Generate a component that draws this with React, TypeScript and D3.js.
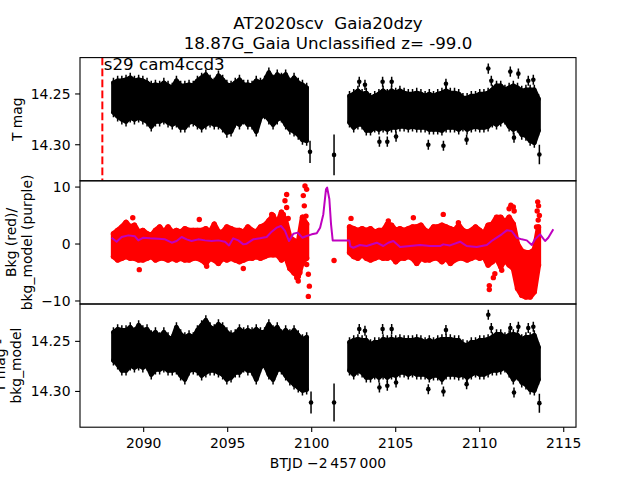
import React from "react";
import * as d3 from "d3";

// ---------- time bins (BTJD - 2457000) ----------
const TIME_S1 = [2088.2, 2088.45, 2088.7, 2088.95, 2089.2, 2089.45, 2089.7, 2089.95, 2090.2, 2090.45, 2090.7, 2090.95, 2091.2, 2091.45, 2091.7, 2091.95, 2092.2, 2092.45, 2092.7, 2092.95, 2093.2, 2093.45, 2093.7, 2093.95, 2094.2, 2094.45, 2094.7, 2094.95, 2095.2, 2095.45, 2095.7, 2095.95, 2096.2, 2096.45, 2096.7, 2096.95, 2097.2, 2097.45, 2097.7, 2097.95, 2098.2, 2098.45, 2098.7, 2098.95, 2099.2, 2099.45, 2099.7];
const TIME_S2 = [2102.25, 2102.5, 2102.75, 2103.0, 2103.25, 2103.5, 2103.75, 2104.0, 2104.25, 2104.5, 2104.75, 2105.0, 2105.25, 2105.5, 2105.75, 2106.0, 2106.25, 2106.5, 2106.75, 2107.0, 2107.25, 2107.5, 2107.75, 2108.0, 2108.25, 2108.5, 2108.75, 2109.0, 2109.25, 2109.5, 2109.75, 2110.0, 2110.25, 2110.5, 2110.75, 2111.0, 2111.25, 2111.5, 2111.75, 2112.0, 2112.25, 2112.5, 2112.75, 2113.0, 2113.25, 2113.5];

// ---------- T mag: brightest / faintest point per bin ----------
const TMAG_HI_S1 = [14.239, 14.237, 14.237, 14.236, 14.234, 14.237, 14.236, 14.237, 14.239, 14.242, 14.241, 14.242, 14.239, 14.242, 14.244, 14.237, 14.242, 14.242, 14.241, 14.242, 14.237, 14.234, 14.231, 14.236, 14.239, 14.232, 14.236, 14.241, 14.242, 14.239, 14.236, 14.241, 14.241, 14.242, 14.237, 14.239, 14.237, 14.229, 14.236, 14.231, 14.234, 14.231, 14.239, 14.234, 14.239, 14.241, 14.244];
const TMAG_LO_S1 = [14.268, 14.272, 14.275, 14.277, 14.273, 14.275, 14.273, 14.275, 14.277, 14.282, 14.277, 14.277, 14.275, 14.278, 14.280, 14.278, 14.283, 14.283, 14.278, 14.277, 14.280, 14.283, 14.280, 14.278, 14.280, 14.280, 14.283, 14.288, 14.287, 14.278, 14.280, 14.275, 14.280, 14.280, 14.287, 14.273, 14.270, 14.275, 14.280, 14.275, 14.273, 14.280, 14.285, 14.287, 14.290, 14.295, 14.296];
const TMAG_HI_S2 = [14.252, 14.250, 14.247, 14.250, 14.249, 14.254, 14.252, 14.250, 14.247, 14.250, 14.247, 14.249, 14.247, 14.249, 14.250, 14.250, 14.249, 14.250, 14.252, 14.250, 14.252, 14.250, 14.249, 14.247, 14.249, 14.249, 14.250, 14.254, 14.254, 14.252, 14.252, 14.250, 14.250, 14.249, 14.246, 14.242, 14.242, 14.246, 14.244, 14.242, 14.244, 14.247, 14.246, 14.246, 14.246, 14.255];
const TMAG_LO_S2 = [14.278, 14.283, 14.280, 14.280, 14.286, 14.286, 14.283, 14.285, 14.283, 14.285, 14.283, 14.283, 14.282, 14.282, 14.283, 14.282, 14.283, 14.283, 14.283, 14.285, 14.285, 14.285, 14.286, 14.283, 14.283, 14.283, 14.285, 14.282, 14.285, 14.283, 14.282, 14.283, 14.283, 14.282, 14.278, 14.280, 14.277, 14.275, 14.282, 14.285, 14.283, 14.290, 14.291, 14.296, 14.298, 14.286];
const TMAG_ERR = 0.005;
const TMAG_OUT_T = [2099.90, 2101.33, 2102.83, 2103.17, 2104.22, 2104.76, 2107.99, 2110.51, 2110.69, 2111.82, 2112.30, 2112.89, 2113.19, 2104.03, 2104.50, 2105.02, 2106.94, 2107.84, 2109.22, 2112.04, 2113.55];
const TMAG_OUT_M = [14.307, 14.310, 14.238, 14.241, 14.238, 14.238, 14.240, 14.225, 14.237, 14.228, 14.230, 14.237, 14.236, 14.297, 14.297, 14.292, 14.300, 14.301, 14.295, 14.293, 14.3096];
const TMAG_OUT_E = [0.011, 0.020, 0.005, 0.005, 0.005, 0.005, 0.005, 0.005, 0.005, 0.005, 0.005, 0.005, 0.005, 0.005, 0.005, 0.005, 0.005, 0.005, 0.005, 0.005, 0.0095];

// ---------- background flux (red) per bin ----------
const BKG_HI_S1 = [1.8, 2.4, 3.0, 3.8, 3.0, 3.3, 2.1, 2.4, 1.8, 1.5, 2.4, 3.0, 2.1, 3.0, 2.1, 2.4, 2.1, 2.7, 2.4, 2.4, 2.4, 2.4, 2.7, 2.1, 3.5, 2.1, 2.1, 3.0, 2.7, 2.4, 2.4, 2.1, 3.0, 2.4, 2.1, 3.0, 3.3, 4.1, 5.0, 3.5, 5.6, 4.1, 1.2, 0.6, 0.3, 4.7, 3.5];
const BKG_LO_S1 = [-2.2, -2.8, -2.5, -2.2, -2.5, -2.5, -2.8, -2.8, -2.5, -2.2, -2.8, -2.5, -2.5, -2.8, -2.5, -2.8, -2.5, -2.8, -2.8, -2.5, -2.5, -2.8, -3.4, -2.5, -2.8, -3.4, -2.5, -2.8, -2.5, -2.8, -3.1, -2.8, -2.5, -2.5, -2.2, -2.5, -2.2, -1.9, -1.9, -1.9, -2.8, -2.2, -4.3, -5.1, -5.7, -3.1, -2.5];
const BKG_HI_S2 = [3.0, 2.7, 2.4, 2.7, 2.4, 2.7, 2.1, 2.4, 2.4, 3.5, 3.3, 2.4, 2.7, 2.4, 2.7, 3.0, 3.0, 3.3, 2.4, 2.1, 3.0, 3.0, 3.3, 3.0, 2.7, 2.4, 3.3, 2.4, 2.1, 2.4, 3.0, 2.4, 1.8, 3.3, 3.5, 4.7, 4.7, 3.8, 4.7, 3.5, 0.0, -1.2, -1.5, -1.5, -1.0, 3.0];
const BKG_LO_S2 = [-1.5, -2.2, -2.5, -1.9, -2.5, -2.8, -2.5, -2.2, -2.5, -2.5, -2.2, -3.1, -2.5, -2.5, -2.2, -2.5, -3.4, -2.5, -2.8, -2.8, -2.5, -2.5, -3.1, -2.5, -3.4, -2.8, -2.5, -2.5, -2.8, -2.5, -2.2, -2.5, -2.2, -3.7, -3.1, -2.5, -4.0, -2.8, -3.7, -4.3, -7.8, -9.0, -9.3, -9.3, -8.4, -3.7];
const BKG_OUT_T = [2089.35, 2089.74, 2093.31, 2093.75, 2095.93, 2097.62, 2098.31, 2098.51, 2098.41, 2098.51, 2098.6, 2099.0, 2099.11, 2099.20, 2099.3, 2099.60, 2099.70, 2099.50, 2099.56, 2099.66, 2099.60, 2099.63, 2099.70, 2099.80, 2099.86, 2099.80, 2101.33, 2102.34, 2104.56, 2106.05, 2107.83, 2108.73, 2110.57, 2110.57, 2110.81, 2110.9, 2111.31, 2111.75, 2111.85, 2112.0, 2112.05, 2113.45, 2113.5, 2113.42, 2113.55, 2113.48, 2113.38];
const BKG_OUT_V = [4.6, -4.5, 4.3, -3.9, -4.3, 5.2, 5.2, 6.4, 7.6, 8.7, 4.5, -4.8, -5.9, -6.5, -5.0, 10.2, 9.6, 8.5, 6.7, 4.9, 3.2, 1.0, -3.6, -5.3, -7.4, -9.2, -2.9, 4.5, 4.05, 4.6, 5.2, 3.75, -7.3, -8.0, -5.9, -5.2, -4.6, 6.2, 6.8, 6.5, 5.8, 7.4, 6.7, 5.8, 5.0, 4.2, 3.0];

// ---------- background model (purple) ----------
const MODEL_T = [2088.09, 2088.39, 2088.69, 2089.09, 2089.48, 2089.68, 2089.98, 2090.38, 2090.87, 2091.27, 2091.67, 2091.96, 2092.26, 2092.56, 2092.85, 2093.25, 2093.65, 2094.05, 2094.44, 2094.84, 2095.08, 2095.33, 2095.63, 2095.93, 2096.13, 2096.52, 2096.92, 2097.32, 2097.62, 2097.91, 2098.17, 2098.41, 2098.65, 2098.91, 2099.17, 2099.44, 2099.70, 2100.00, 2100.30, 2100.50, 2100.69, 2100.85, 2100.92, 2101.05, 2101.15, 2101.25, 2102.24, 2102.30, 2102.48, 2102.87, 2103.27, 2103.87, 2104.26, 2104.56, 2104.86, 2105.26, 2105.85, 2106.45, 2107.04, 2107.64, 2107.83, 2108.23, 2108.83, 2109.22, 2109.82, 2110.42, 2110.71, 2111.01, 2111.31, 2111.61, 2111.90, 2112.20, 2112.50, 2112.80, 2113.10, 2113.29, 2113.59, 2113.89, 2114.08, 2114.38];
const MODEL_V = [1.11, 0.41, 1.23, 1.52, 1.35, 0.64, 1.11, 1.00, 0.94, 0.82, 0.23, 0.53, 1.23, 0.82, 0.53, 0.82, 0.64, 0.53, 0.64, 0.41, -0.24, 1.00, 0.64, -0.06, 0.06, 0.82, 1.00, 1.23, 2.17, 2.87, 3.17, 2.29, 0.53, 1.82, 2.00, 1.11, 1.41, 1.70, 1.90, 2.87, 5.2, 9.6, 9.9, 7.9, 3.5, 0.64, 0.64, -0.40, -0.65, -0.18, -0.35, 0.23, -0.35, 0.23, 0.53, -0.53, -0.35, -0.18, -0.35, -0.35, -0.06, -0.24, 0.41, -0.35, -0.53, -0.18, 0.53, 1.11, 1.70, 2.40, 2.29, 1.11, 0.82, 0.64, -0.18, 0.82, 1.70, 0.53, 1.11, 2.58];

// ---------- T mag - bkg_model ----------
const CORR_HI_S1 = [14.241, 14.238, 14.239, 14.239, 14.236, 14.241, 14.234, 14.239, 14.238, 14.244, 14.241, 14.246, 14.241, 14.246, 14.248, 14.236, 14.243, 14.246, 14.244, 14.246, 14.239, 14.234, 14.229, 14.236, 14.238, 14.233, 14.236, 14.241, 14.244, 14.243, 14.238, 14.241, 14.239, 14.241, 14.238, 14.241, 14.241, 14.233, 14.239, 14.236, 14.243, 14.239, 14.243, 14.239, 14.244, 14.248, 14.246];
const CORR_LO_S1 = [14.269, 14.273, 14.279, 14.279, 14.274, 14.276, 14.274, 14.276, 14.274, 14.283, 14.278, 14.278, 14.276, 14.279, 14.279, 14.278, 14.284, 14.288, 14.279, 14.278, 14.279, 14.284, 14.281, 14.279, 14.279, 14.281, 14.283, 14.288, 14.286, 14.281, 14.281, 14.276, 14.279, 14.279, 14.288, 14.276, 14.273, 14.283, 14.288, 14.278, 14.278, 14.284, 14.289, 14.293, 14.296, 14.299, 14.298];
const CORR_HI_S2 = [14.251, 14.249, 14.248, 14.249, 14.249, 14.253, 14.251, 14.251, 14.248, 14.249, 14.248, 14.249, 14.248, 14.249, 14.249, 14.249, 14.248, 14.249, 14.251, 14.249, 14.251, 14.249, 14.248, 14.248, 14.248, 14.249, 14.249, 14.253, 14.254, 14.251, 14.251, 14.249, 14.249, 14.248, 14.246, 14.243, 14.243, 14.246, 14.244, 14.243, 14.244, 14.248, 14.246, 14.246, 14.244, 14.256];
const CORR_LO_S2 = [14.279, 14.283, 14.279, 14.281, 14.286, 14.286, 14.283, 14.286, 14.283, 14.286, 14.283, 14.284, 14.281, 14.281, 14.283, 14.281, 14.283, 14.283, 14.283, 14.286, 14.284, 14.284, 14.288, 14.283, 14.283, 14.283, 14.284, 14.283, 14.286, 14.283, 14.281, 14.283, 14.283, 14.281, 14.279, 14.279, 14.278, 14.276, 14.281, 14.288, 14.284, 14.291, 14.293, 14.298, 14.299, 14.288];
const CORR_OUT_T = [2099.96, 2101.33, 2102.83, 2103.17, 2104.22, 2104.76, 2107.99, 2110.51, 2110.69, 2111.82, 2112.30, 2112.89, 2113.19, 2104.03, 2104.50, 2105.02, 2106.94, 2107.84, 2109.22, 2112.04, 2113.55];
const CORR_OUT_M = [14.311, 14.311, 14.2377, 14.2394, 14.2377, 14.2377, 14.2387, 14.2234, 14.2367, 14.2367, 14.2354, 14.2367, 14.2354, 14.296, 14.2943, 14.291, 14.2977, 14.300, 14.2927, 14.301, 14.3117];
const CORR_OUT_E = [0.011, 0.019, 0.005, 0.005, 0.005, 0.005, 0.005, 0.005, 0.005, 0.005, 0.005, 0.005, 0.005, 0.005, 0.005, 0.005, 0.005, 0.005, 0.005, 0.005, 0.0095];

// ---------- axes / labels ----------
const X_TICKS = [2090, 2095, 2100, 2105, 2110, 2115];
const MAG_TICKS = [14.25, 14.30];
const BKG_TICKS = [10, 0, -10];
const SECTOR_TIME = 2087.54;
const SECTOR_LABEL = "s29 cam4ccd3";
const TITLE_1 = "AT2020scv  Gaia20dzy";
const TITLE_2 = "18.87G_Gaia Unclassified z= -99.0";
const X_LABEL = "BTJD \u22122\u2009457\u2009000";

const FONT = "DejaVu Sans, sans-serif";
const L = 80, R = 576;
const P1 = [57.6, 180.8], P2 = [180.8, 304], P3 = [304, 427.2];
const PURPLE = "#bf00bf";

function fmtTick(v: number, d: number) {
  const s = v.toFixed(d);
  return s.replace("-", "\u2212");
}

function blob(key: string, ts: number[], hi: number[], lo: number[], err: number,
  x: any, y: any, color: string, r: number, w: number) {
  const idx = ts.map((_, i) => i);
  const core = d3.area<number>()
    .x((i) => x(ts[i]))
    .y0((i) => y(hi[i]))
    .y1((i) => y(lo[i]))(idx) || "";
  const x0 = x(ts[0]) - w / 2, x1 = x(ts[ts.length - 1]) + w / 2;
  return (
    <g key={key}>
      <path d={core} fill={color} stroke={color} strokeWidth={w} strokeLinejoin="round" />
      {ts.map((t, i) => {
        const X = x(t);
        const a = y(hi[i]), b = y(lo[i]);
        const ea = y(hi[i] - err), eb = y(lo[i] + err);
        return (
          <g key={key + i}>
            {err > 0 && (
              <line x1={X} x2={X} y1={Math.min(ea, eb)} y2={Math.max(ea, eb)} stroke={color} strokeWidth={1.5} />
            )}
            <circle cx={X} cy={a} r={r} fill={color} />
            <circle cx={X} cy={b} r={r} fill={color} />
          </g>
        );
      })}
    </g>
  );
}

function points(key: string, ts: number[], vs: number[], es: number[] | null,
  x: any, y: any, color: string, r: number) {
  return ts.map((t, i) => {
    const X = x(t);
    const Y = y(vs[i]);
    return (
      <g key={key + i}>
        {es && (
          <line x1={X} x2={X} y1={y(vs[i] - es[i])} y2={y(vs[i] + es[i])} stroke={color} strokeWidth={1.5} />
        )}
        <circle cx={X} cy={Y} r={r} fill={color} />
      </g>
    );
  });
}

function yAxis(key: string, ticks: number[], y: any, dec: number) {
  return ticks.map((v, i) => (
    <g key={key + i}>
      <line x1={L - 4.9} x2={L} y1={y(v)} y2={y(v)} stroke="#000" strokeWidth={1.1} />
      <text x={L - 9.5} y={y(v)} dy="0.36em" textAnchor="end" fontSize={13.9} fontFamily={FONT}>
        {fmtTick(v, dec)}
      </text>
    </g>
  ));
}

export default function App() {
  const x = d3.scaleLinear().domain([2086.21, 2115.73]).range([L, R]);
  const yTop = d3.scaleLinear().domain([14.2142, 14.3355]).range([P1[0], P1[1]]);
  const yMid = d3.scaleLinear().domain([-10.53, 11.1]).range([P2[1], P2[0]]);
  const yBot = d3.scaleLinear().domain([14.2127, 14.3357]).range([P3[0], P3[1]]);

  const modelLine = d3.line<number>()
    .x((_, i) => x(MODEL_T[i]))
    .y((v) => yMid(v))(MODEL_V) || "";

  const sx = x(SECTOR_TIME);

  return (
    <svg width={640} height={480} style={{ position: "absolute", left: 0, top: 0, display: "block" }}>
      <defs>
        <clipPath id="c1"><rect x={L} y={P1[0]} width={R - L} height={P1[1] - P1[0]} /></clipPath>
        <clipPath id="c2"><rect x={L} y={P2[0]} width={R - L} height={P2[1] - P2[0]} /></clipPath>
        <clipPath id="c3"><rect x={L} y={P3[0]} width={R - L} height={P3[1] - P3[0]} /></clipPath>
      </defs>
      <rect x={0} y={0} width={640} height={480} fill="#fff" />

      {/* titles */}
      <text x={328} y={29} textAnchor="middle" fontSize={16.67} fontFamily={FONT} style={{ whiteSpace: "pre" }}>{TITLE_1}</text>
      <text x={328} y={49} textAnchor="middle" fontSize={16.67} fontFamily={FONT}>{TITLE_2}</text>

      {/* panel 1: T mag */}
      <g clipPath="url(#c1)">
        {blob("t1", TIME_S1, TMAG_HI_S1, TMAG_LO_S1, TMAG_ERR, x, yTop, "#000", 2.3, 4.6)}
        {blob("t2", TIME_S2, TMAG_HI_S2, TMAG_LO_S2, TMAG_ERR, x, yTop, "#000", 2.3, 4.6)}
        {points("to", TMAG_OUT_T, TMAG_OUT_M, TMAG_OUT_E, x, yTop, "#000", 2.3)}
        <line x1={sx} x2={sx} y1={P1[0]} y2={P1[1]} stroke="#ff0000" strokeWidth={2} strokeDasharray="7.7,3.3" />
      </g>
      <text x={sx + 1.5} y={70} fontSize={16.67} fontFamily={FONT}>{SECTOR_LABEL}</text>
      {yAxis("ya", MAG_TICKS, yTop, 2)}
      <text transform={`translate(21.5,${(P1[0] + P1[1]) / 2}) rotate(-90)`} textAnchor="middle" fontSize={13.9} fontFamily={FONT}>T mag</text>

      {/* panel 2: background */}
      <g clipPath="url(#c2)">
        {blob("b1", TIME_S1, BKG_HI_S1, BKG_LO_S1, 0, x, yMid, "#ff0000", 2.7, 5.2)}
        {blob("b2", TIME_S2, BKG_HI_S2, BKG_LO_S2, 0, x, yMid, "#ff0000", 2.7, 5.2)}
        {points("bo", BKG_OUT_T, BKG_OUT_V, null, x, yMid, "#ff0000", 2.7)}
        <path d={modelLine} fill="none" stroke={PURPLE} strokeWidth={2} strokeLinejoin="round" />
      </g>
      {yAxis("yb", BKG_TICKS, yMid, 0)}
      <g transform={`translate(0,${(P2[0] + P2[1]) / 2})`}>
        <text transform="translate(16,0) rotate(-90)" textAnchor="middle" fontSize={13.9} fontFamily={FONT}>Bkg (red)/</text>
        <text transform="translate(32,0) rotate(-90)" textAnchor="middle" fontSize={13.9} fontFamily={FONT}>bkg_model (purple)</text>
      </g>

      {/* panel 3: T mag - bkg_model */}
      <g clipPath="url(#c3)">
        {blob("c1", TIME_S1, CORR_HI_S1, CORR_LO_S1, TMAG_ERR, x, yBot, "#000", 2.3, 4.6)}
        {blob("c2", TIME_S2, CORR_HI_S2, CORR_LO_S2, TMAG_ERR, x, yBot, "#000", 2.3, 4.6)}
        {points("co", CORR_OUT_T, CORR_OUT_M, CORR_OUT_E, x, yBot, "#000", 2.3)}
      </g>
      {yAxis("yc", MAG_TICKS, yBot, 2)}
      <g transform={`translate(0,${(P3[0] + P3[1]) / 2})`}>
        <text transform="translate(4.5,0) rotate(-90)" textAnchor="middle" fontSize={13.9} fontFamily={FONT}>T mag -</text>
        <text transform="translate(20.5,0) rotate(-90)" textAnchor="middle" fontSize={13.9} fontFamily={FONT}>bkg_model</text>
      </g>

      {/* x axis */}
      {X_TICKS.map((t, i) => (
        <g key={"xt" + i}>
          <line x1={x(t)} x2={x(t)} y1={P3[1]} y2={P3[1] + 4.9} stroke="#000" strokeWidth={1.1} />
          <text x={x(t)} y={447.5} textAnchor="middle" fontSize={13.9} fontFamily={FONT}>{t}</text>
        </g>
      ))}
      <text x={328} y={468} textAnchor="middle" fontSize={13.9} fontFamily={FONT}>{X_LABEL}</text>

      {/* frames */}
      {[P1, P2, P3].map((p, i) => (
        <rect key={"f" + i} x={L} y={p[0]} width={R - L} height={p[1] - p[0]} fill="none" stroke="#000" strokeWidth={1.1} />
      ))}
    </svg>
  );
}
